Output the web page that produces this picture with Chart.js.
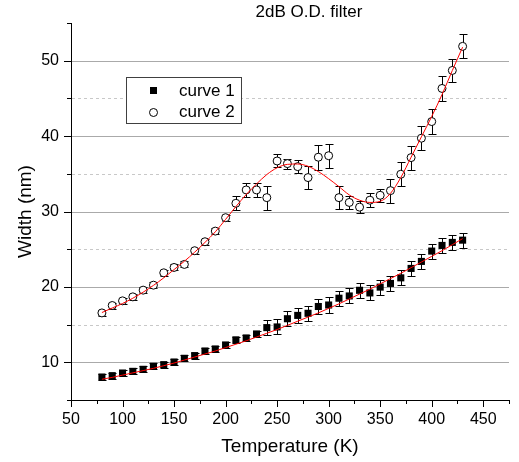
<!DOCTYPE html>
<html>
<head>
<meta charset="utf-8">
<title>2dB O.D. filter</title>
<script src="https://cdn.jsdelivr.net/npm/chart.js@4/dist/chart.umd.min.js"></script>
<style>
  html, body { margin: 0; padding: 0; background: #ffffff; }
  #wrap { width: 519px; height: 462px; }
</style>
</head>
<body>
<div id="wrap"><canvas id="chart" width="519" height="462"></canvas></div>
<script>
// Temperatures of the measurements (K)
const temperature = [80, 90, 100, 110, 120, 130, 140, 150, 160, 170, 180, 190, 200, 210, 220, 230, 240, 250,
                     260, 270, 280, 290, 300, 310, 320, 330, 340, 350, 360, 370, 380, 390, 400, 410, 420, 430];

// Measured widths (nm) and their uncertainties
const curve1 = [8.05, 8.23, 8.58, 8.8, 9.07, 9.47, 9.69, 10.04, 10.53, 10.89, 11.5, 11.77, 12.3, 12.98, 13.23, 13.76, 14.6, 14.69,
                15.78, 16.22, 16.5, 17.4, 17.6, 18.5, 18.8, 19.55, 19.2, 19.97, 20.46, 21.2, 22.45, 23.38, 24.75, 25.5, 25.9, 26.2];
const curve1Err = [0.4, 0.4, 0.4, 0.4, 0.4, 0.4, 0.4, 0.4, 0.4, 0.4, 0.4, 0.4, 0.4, 0.4, 0.4, 0.4, 1.0, 1.0,
                   1.0, 1.0, 1.0, 1.0, 1.0, 1.0, 1.0, 1.0, 1.0, 1.0, 1.0, 1.0, 1.0, 1.0, 1.0, 1.0, 1.0, 1.0];

const curve2 = [16.55, 17.53, 18.15, 18.68, 19.57, 20.23, 21.87, 22.58, 22.98, 24.8, 25.99, 27.4, 29.18, 31.09, 32.86, 32.86, 31.84, 36.7,
                36.35, 35.95, 34.5, 37.2, 37.4, 31.84, 31.2, 30.58, 31.5, 32.15, 32.77, 34.94, 37.15, 39.72, 41.93, 46.32, 48.71, 51.9];
const curve2Err = [0.4, 0.4, 0.4, 0.4, 0.4, 0.4, 0.4, 0.4, 0.4, 0.4, 0.4, 0.4, 0.4, 0.9, 0.97, 0.97, 1.6, 0.86,
                   0.66, 0.84, 1.55, 1.64, 1.6, 1.55, 0.88, 0.75, 0.93, 0.84, 1.6, 1.6, 1.6, 1.6, 1.6, 1.6, 1.57, 1.6];

// Fitted curves, sampled on the same temperatures
const fit1 = [7.75, 8.0, 8.3, 8.6, 8.9, 9.2, 9.55, 9.9, 10.3, 10.7, 11.1, 11.5, 11.95, 12.4, 12.85, 13.35, 13.85, 14.35,
              14.9, 15.45, 16.0, 16.55, 17.15, 17.75, 18.4, 19.05, 19.7, 20.4, 21.1, 21.8, 22.55, 23.3, 24.05, 24.8, 25.6, 26.4];
const fit2 = [16.6, 17.2, 17.8, 18.5, 19.3, 20.2, 21.2, 22.3, 23.4, 24.6, 25.9, 27.3, 28.95, 30.65, 32.25, 33.65, 34.9, 35.8,
              36.25, 36.3, 36.0, 35.3, 34.35, 33.3, 32.2, 31.5, 31.2, 31.35, 32.4, 34.5, 37.2, 39.9, 42.6, 45.5, 48.7, 51.8];

// Axis ticks
const xMajorTicks = [50, 100, 150, 200, 250, 300, 350, 400, 450];
const xMinorTicks = [75, 125, 175, 225, 275, 325, 375, 425, 475];
const yMajorTicks = [10, 20, 30, 40, 50];
const yMinorTicks = [5, 15, 25, 35, 45, 55];

const seriesNames = ['curve 1', 'curve 2'];
const chartTitle = '2dB O.D. filter';

const FONT = "'Liberation Sans', Arial, Helvetica, sans-serif";

const toPoints = (ys) => temperature.map((t, i) => ({ x: t, y: ys[i] }));

// Grid lines: solid at major values, dashed at minor ones
const gridPlugin = {
  id: 'gridLines',
  beforeDatasetsDraw(chart) {
    const { ctx, chartArea: a, scales: { y } } = chart;
    ctx.save();
    ctx.lineWidth = 1;
    yMajorTicks.forEach(v => {
      const py = Math.round(y.getPixelForValue(v)) + 0.5;
      ctx.strokeStyle = '#aaaaaa';
      ctx.setLineDash([]);
      ctx.beginPath(); ctx.moveTo(a.left + 1, py); ctx.lineTo(a.right, py); ctx.stroke();
    });
    yMinorTicks.filter(v => v > y.min && v < y.max).forEach(v => {
      const py = Math.round(y.getPixelForValue(v)) + 0.5;
      ctx.strokeStyle = '#c8c8c8';
      ctx.setLineDash([3, 3]);
      ctx.beginPath(); ctx.moveTo(a.left + 1, py); ctx.lineTo(a.right, py); ctx.stroke();
    });
    ctx.restore();
  }
};

// Vertical error bars with caps, under the markers
const errorBarPlugin = {
  id: 'errorBars',
  beforeDatasetsDraw(chart) {
    const { ctx, scales: { x, y } } = chart;
    const sets = [[curve1, curve1Err], [curve2, curve2Err]];
    ctx.save();
    ctx.strokeStyle = '#000000';
    ctx.lineWidth = 1;
    ctx.setLineDash([]);
    sets.forEach(([vals, errs]) => {
      vals.forEach((v, i) => {
        const px = Math.round(x.getPixelForValue(temperature[i])) + 0.5;
        const top = Math.round(y.getPixelForValue(v + errs[i])) + 0.5;
        const bot = Math.round(y.getPixelForValue(v - errs[i])) + 0.5;
        ctx.beginPath();
        ctx.moveTo(px, top); ctx.lineTo(px, bot);
        ctx.moveTo(px - 4, top); ctx.lineTo(px + 4, top);
        ctx.moveTo(px - 4, bot); ctx.lineTo(px + 4, bot);
        ctx.stroke();
      });
    });
    ctx.restore();
  }
};

// Outward tick marks, title and boxed legend
const decorPlugin = {
  id: 'decor',
  afterDraw(chart) {
    const { ctx, chartArea: a, scales: { x, y } } = chart;
    ctx.save();
    ctx.strokeStyle = '#000000';
    ctx.lineWidth = 1;
    ctx.beginPath();
    yMajorTicks.forEach(v => { const py = Math.round(y.getPixelForValue(v)) + 0.5; ctx.moveTo(a.left - 7, py); ctx.lineTo(a.left, py); });
    yMinorTicks.forEach(v => { const py = Math.round(y.getPixelForValue(v)) + 0.5; ctx.moveTo(a.left - 4, py); ctx.lineTo(a.left, py); });
    xMajorTicks.forEach(v => { const px = Math.round(x.getPixelForValue(v)) + 0.5; ctx.moveTo(px, a.bottom); ctx.lineTo(px, a.bottom + 7); });
    xMinorTicks.forEach(v => { const px = Math.round(x.getPixelForValue(v)) + 0.5; ctx.moveTo(px, a.bottom); ctx.lineTo(px, a.bottom + 4); });
    ctx.stroke();

    // title
    ctx.fillStyle = '#000000';
    ctx.font = '17px ' + FONT;
    ctx.textAlign = 'center';
    ctx.textBaseline = 'middle';
    ctx.fillText(chartTitle, 309, 12);

    // legend box
    const bx = 126.5, by = 77.5, bw = 115, bh = 46;
    ctx.fillStyle = '#ffffff';
    ctx.fillRect(bx, by, bw, bh);
    ctx.strokeStyle = '#404040';
    ctx.strokeRect(bx, by, bw, bh);

    ctx.fillStyle = '#000000';
    ctx.fillRect(150, 87, 7, 7);
    ctx.beginPath();
    ctx.arc(153.5, 112.5, 4, 0, Math.PI * 2);
    ctx.fillStyle = '#ffffff';
    ctx.fill();
    ctx.strokeStyle = '#000000';
    ctx.stroke();

    ctx.fillStyle = '#000000';
    ctx.font = '17px ' + FONT;
    ctx.textAlign = 'left';
    ctx.textBaseline = 'middle';
    ctx.fillText(seriesNames[0], 179, 91);
    ctx.fillText(seriesNames[1], 179, 112);
    ctx.restore();
  }
};

new Chart(document.getElementById('chart'), {
  type: 'scatter',
  data: {
    datasets: [
      { label: seriesNames[0] + ' fit', data: toPoints(fit1), showLine: true, borderColor: '#ff0000', borderWidth: 1,
        pointRadius: 0, cubicInterpolationMode: 'monotone', order: 0 },
      { label: seriesNames[1] + ' fit', data: toPoints(fit2), showLine: true, borderColor: '#ff0000', borderWidth: 1,
        pointRadius: 0, cubicInterpolationMode: 'monotone', order: 0 },
      { label: seriesNames[0], data: toPoints(curve1), pointStyle: 'rect', pointRadius: 5,
        backgroundColor: '#000000', borderColor: '#000000', borderWidth: 0, order: 1 },
      { label: seriesNames[1], data: toPoints(curve2), pointStyle: 'circle', pointRadius: 4,
        backgroundColor: '#ffffff', borderColor: '#000000', borderWidth: 1, order: 1 }
    ]
  },
  options: {
    responsive: false,
    animation: false,
    devicePixelRatio: 1,
    layout: { padding: { top: 23, right: 1, left: 0, bottom: 0 } },
    plugins: { legend: { display: false }, tooltip: { enabled: false }, title: { display: false } },
    scales: {
      x: {
        type: 'linear', min: 50, max: 475,
        grid: { display: false, drawTicks: false },
        border: { display: true, color: '#000000', width: 1 },
        ticks: { stepSize: 25, autoSkip: false, maxRotation: 0, padding: 10, color: '#000000',
                 font: { family: FONT, size: 16 },
                 callback: v => (xMajorTicks.includes(v) ? String(v) : '') },
        title: { display: true, text: 'Temperature (K)', color: '#000000',
                 font: { family: FONT, size: 19, lineHeight: 1 }, padding: { top: 0, bottom: 6 } },
        afterFit: s => { s.height = 62; }
      },
      y: {
        type: 'linear', min: 5, max: 55,
        grid: { display: false, drawTicks: false },
        border: { display: true, color: '#000000', width: 1 },
        ticks: { stepSize: 5, autoSkip: false, padding: 12, color: '#000000',
                 font: { family: FONT, size: 16 },
                 callback: v => (yMajorTicks.includes(v) ? String(v) : '') },
        title: { display: true, text: 'Width (nm)', color: '#000000',
                 font: { family: FONT, size: 19, lineHeight: 1 }, padding: { top: 16, bottom: 0 } },
        afterFit: s => { s.width = 71; }
      }
    }
  },
  plugins: [gridPlugin, errorBarPlugin, decorPlugin]
});
</script>
</body>
</html>
